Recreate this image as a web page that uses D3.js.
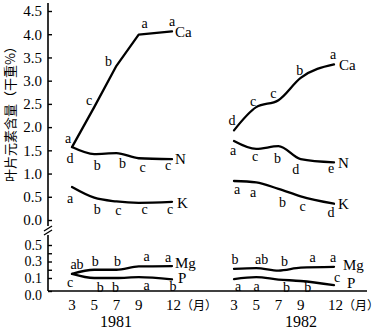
<!DOCTYPE html>
<html><head><meta charset="utf-8">
<script src="https://cdn.jsdelivr.net/npm/d3@7"></script>
<style>body{margin:0;background:#fff}svg{display:block}</style>
</head><body><svg id="c" width="380" height="329"></svg>
<script>
// ---------- data ----------
const months = [3, 5, 7, 9, 12];
const years = ["1981", "1982"];
const upperTicks = [0, 0.5, 1, 1.5, 2, 2.5, 3, 3.5, 4, 4.5];
const lowerTicks = [0, 0.1, 0.2, 0.3, 0.4, 0.5];
const lowerTickLabels = [0, 0.1, 0.3, 0.5];
const yLabel = "叶片元素含量（干重%）";
const monthUnit = "（月）";

const Ca1981 = [1.57, 2.43, 3.32, 3.99, 4.06];
const N1981  = [1.57, 1.42, 1.44, 1.33, 1.31];
const K1981  = [0.71, 0.48, 0.40, 0.37, 0.39];
const Mg1981 = [0.15, 0.20, 0.20, 0.24, 0.245];
const P1981  = [0.15, 0.10, 0.10, 0.11, 0.09];

const Ca1982 = [1.93, 2.43, 2.58, 3.06, 3.35];
const N1982  = [1.70, 1.53, 1.59, 1.31, 1.24];
const K1982  = [0.84, 0.81, 0.67, 0.51, 0.35];
const Mg1982 = [0.21, 0.22, 0.19, 0.225, 0.235];
const P1982  = [0.092, 0.11, 0.088, 0.077, 0.046];

const Ca1981Sig = ["a", "c", "b", "a", "a"];
const N1981Sig  = ["d", "b", "b", "c", "c"];
const K1981Sig  = ["a", "b", "c", "c", "c"];
const Mg1981Sig = ["ab", "b", "b", "a", "a"];
const P1981Sig  = ["c", "b", "b", "a", "b"];
const Ca1982Sig = ["d", "c", "c", "b", "a"];
const N1982Sig  = ["a", "c", "b", "d", "e"];
const K1982Sig  = ["a", "a", "b", "c", "d"];
const Mg1982Sig = ["b", "ab", "b", "a", "a"];
const P1982Sig  = ["a", "a", "b", "b", "c"];

// ---------- layout (label offsets from the data point, px) ----------
const layout = {
  Ca1981: {sig: [[-4,-9],[-5,-7],[-8,-4],[6,-11],[0,-10]], name: [3,6]},
  N1981:  {sig: [[-2,11],[3,11],[6,10],[4,9],[-4,6]],      name: [3,5]},
  K1981:  {sig: [[-2,11],[3,12],[2,9],[6,7],[-2,8]],       name: [5,6]},
  Mg1981: {sig: [[5,-9],[1,-8],[1,-8],[8,-9.5],[-4,-9]],   name: [3,2]},
  P1981:  {sig: [[-2,9],[6,9],[-1,9],[8,8],[1,7]],         name: [6,4]},
  Ca1982: {sig: [[-2,-10],[-3,-6],[-5,-7],[-1,-7],[-1,-10]], name: [5,5.5]},
  N1982:  {sig: [[-1,9],[-1,8],[-1,12],[-5,10],[-3,6.5]],  name: [4,6]},
  K1982:  {sig: [[3,9],[-3,10],[4,14],[2,10],[-3,9]],      name: [4,5]},
  Mg1982: {sig: [[1,-9],[5.5,-9],[6,-9.5],[12,-10],[-1,-9]], name: [9,3]},
  P1982:  {sig: [[4,7],[0.5,9],[8,8],[7,7],[3,-8]],        name: [13,3]}
};
const yearLabelShift = {"1981": -6, "1982": 17};

const series = [
  {name:"Ca", year:"1981", panel:"U", values:Ca1981, sig:Ca1981Sig},
  {name:"N",  year:"1981", panel:"U", values:N1981,  sig:N1981Sig},
  {name:"K",  year:"1981", panel:"U", values:K1981,  sig:K1981Sig},
  {name:"Mg", year:"1981", panel:"L", values:Mg1981, sig:Mg1981Sig},
  {name:"P",  year:"1981", panel:"L", values:P1981,  sig:P1981Sig},
  {name:"Ca", year:"1982", panel:"U", values:Ca1982, sig:Ca1982Sig},
  {name:"N",  year:"1982", panel:"U", values:N1982,  sig:N1982Sig},
  {name:"K",  year:"1982", panel:"U", values:K1982,  sig:K1982Sig},
  {name:"Mg", year:"1982", panel:"L", values:Mg1982, sig:Mg1982Sig},
  {name:"P",  year:"1982", panel:"L", values:P1982,  sig:P1982Sig}
];

// ---------- scales ----------
const x = {
  "1981": d3.scaleLinear().domain([3, 12]).range([72, 172]),
  "1982": d3.scaleLinear().domain([3, 12]).range([234, 334])
};
const yU = d3.scaleLinear().domain([0, 4.5]).range([220, 11]);
const yL = d3.scaleLinear().domain([0, 0.1, 0.5]).range([291, 278, 245]);
const yOf = p => p === "U" ? yU : yL;

const serif = "'Liberation Serif','Times New Roman',serif";
const svg = d3.select("#c");
const axisX = 48;

// ---------- y axes ----------
const fmt = d3.format(".1f");
const gU = svg.append("g").attr("transform", `translate(${axisX},0)`)
  .call(d3.axisLeft(yU).tickValues(upperTicks).tickFormat(fmt)
    .tickSizeInner(-4).tickSizeOuter(0).tickPadding(6));
const gL = svg.append("g").attr("transform", `translate(${axisX},0)`)
  .call(d3.axisLeft(yL).tickValues(lowerTicks)
    .tickFormat(d => lowerTickLabels.some(v => Math.abs(v - d) < 1e-9) ? fmt(d) : "")
    .tickSizeInner(-4).tickSizeOuter(0).tickPadding(6));
[gU, gL].forEach(g => {
  g.select(".domain").remove();
  g.selectAll(".tick line").attr("stroke", "#000").attr("stroke-width", 1.4);
  g.selectAll(".tick text").attr("font-family", serif).attr("font-size", 15)
    .attr("fill", "#000");
});
gL.selectAll(".tick text").attr("font-size", 14)
  .attr("dy", d => d === 0 ? "0.62em" : "0.32em");

// axis lines
svg.append("line").attr("x1", axisX).attr("x2", axisX)
  .attr("y1", yU(4.5) - 8).attr("y2", yU(0) + 6)
  .attr("stroke", "#000").attr("stroke-width", 1.6);
svg.append("line").attr("x1", axisX).attr("x2", axisX)
  .attr("y1", yL(0.5) - 10).attr("y2", yL(0))
  .attr("stroke", "#000").attr("stroke-width", 1.6);
// break marks
[0, 4].forEach(o => {
  svg.append("line").attr("x1", axisX - 4).attr("y1", yU(0) + 11 + o)
    .attr("x2", axisX + 4).attr("y2", yU(0) + 6 + o)
    .attr("stroke", "#000").attr("stroke-width", 1.3);
});

// ---------- x axis ----------
svg.append("line").attr("x1", axisX).attr("x2", 367)
  .attr("y1", yL(0)).attr("y2", yL(0))
  .attr("stroke", "#000").attr("stroke-width", 1.6);
years.forEach(yr => {
  const g = svg.append("g");
  g.selectAll("text.mt").data(months).join("text")
    .attr("class", "mt")
    .attr("x", d => d === 12 ? x[yr](d) - 6 : x[yr](d))
    .attr("y", 310)
    .attr("text-anchor", d => d === 12 ? "start" : "middle")
    .attr("font-family", serif).attr("font-size", 15)
    .each(function(d) {
      const t = d3.select(this);
      t.append("tspan").text(d);
      if (d === 12) t.append("tspan").attr("font-family", "'Noto Sans CJK SC',serif")
        .attr("font-size", 12).text(monthUnit);
    });
  g.append("text")
    .attr("x", (x[yr](3) + x[yr](12)) / 2 + yearLabelShift[yr])
    .attr("y", 327)
    .attr("text-anchor", "middle")
    .attr("font-family", serif).attr("font-size", 16)
    .text(yr);
});

// y label
svg.append("text")
  .attr("transform", `translate(9,111) rotate(-90)`)
  .attr("text-anchor", "middle").attr("dominant-baseline", "central")
  .attr("font-family", "'Noto Sans CJK SC',sans-serif").attr("font-size", 13)
  .text(yLabel);

// ---------- lines ----------
series.forEach(s => {
  const xs = x[s.year], ys = yOf(s.panel);
  const key = s.name + s.year;
  const lay = layout[key];
  const pts = months.map((m, i) => [xs(m), ys(s.values[i])]);
  const line = d3.line().curve(s.panel === "U" && s.name === "Ca" && s.year === "1981"
      ? d3.curveLinear : d3.curveMonotoneX);
  svg.append("path").attr("d", line(pts))
    .attr("fill", "none").attr("stroke", "#000")
    .attr("stroke-width", 2.3).attr("stroke-linejoin", "round").attr("stroke-linecap", "round");
  svg.append("g").selectAll("text").data(s.sig).join("text")
    .attr("x", (d, i) => pts[i][0] + lay.sig[i][0])
    .attr("y", (d, i) => pts[i][1] + lay.sig[i][1])
    .attr("text-anchor", "middle").attr("dominant-baseline", "central")
    .attr("font-family", serif).attr("font-size", 14)
    .text(d => d);
  const last = pts[pts.length - 1];
  svg.append("text")
    .attr("x", last[0] + lay.name[0]).attr("y", last[1] + lay.name[1])
    .attr("font-family", serif).attr("font-size", 15)
    .text(s.name);
});
</script></body></html>
